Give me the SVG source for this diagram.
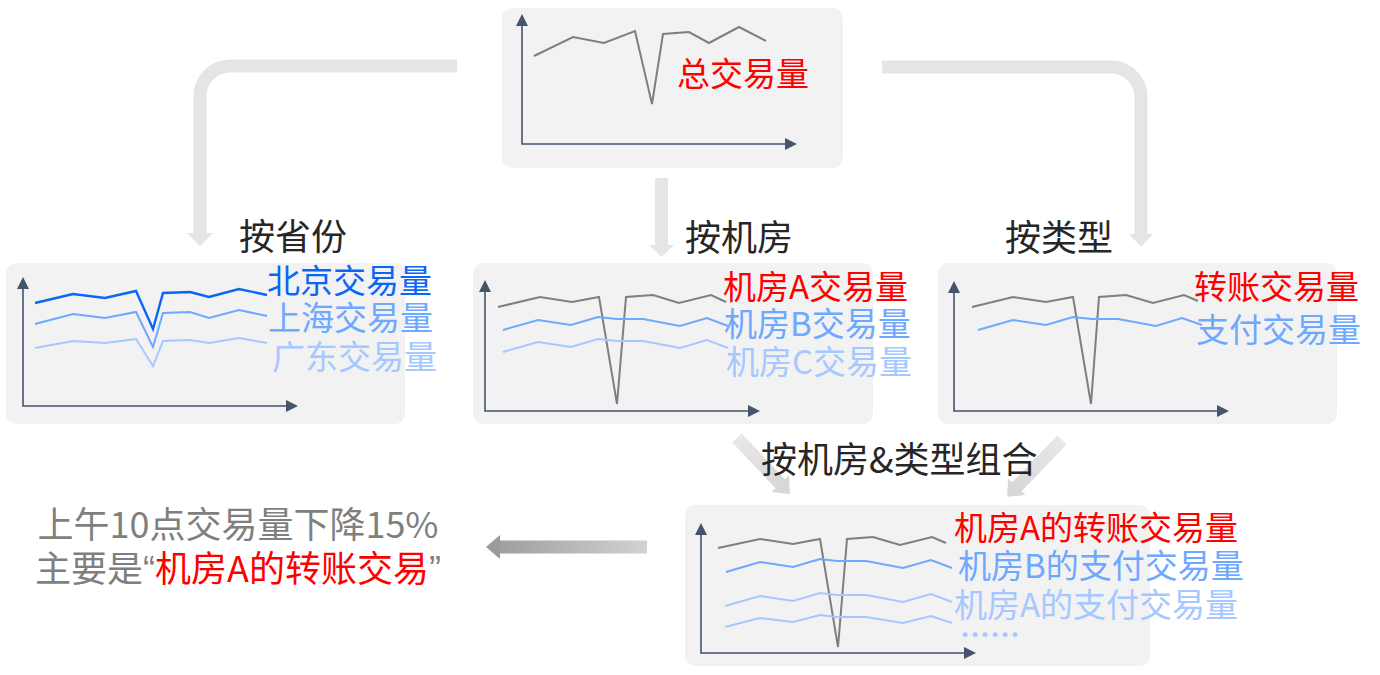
<svg xmlns="http://www.w3.org/2000/svg" width="1380" height="675" viewBox="0 0 1380 675">
<defs>
<style>
.box{fill:#f2f2f2}
.ax{stroke:#44546a;stroke-width:1.6;fill:none}
.axh{fill:#44546a}
.g{stroke:#7f7f7f;stroke-width:2;fill:none;stroke-linejoin:miter}
.b1{stroke:#0a66f5;stroke-width:2.4;fill:none}
.b2{stroke:#6ea8ff;stroke-width:2;fill:none}
.b3{stroke:#a6c8ff;stroke-width:2;fill:none}
text{font-family:"Noto Sans CJK SC","Noto Sans",sans-serif}
.lbl{font-size:33px}
.sec{font-size:36px;fill:#262626}
.red{fill:#ff0000}
.tb1{fill:#0a66f5}
.tb2{fill:#6ea8ff}
.tb3{fill:#a6c8ff}
.q{font-family:"Liberation Sans",sans-serif}
.con{stroke:#e5e5e5;stroke-width:13;fill:none}
.conh{fill:#e5e5e5}
</style>
<linearGradient id="lg" gradientUnits="userSpaceOnUse" x1="486" y1="0" x2="647" y2="0">
<stop offset="0" stop-color="#9a9a9a"/><stop offset="1" stop-color="#d2d2d2"/>
</linearGradient>
<linearGradient id="dg" x1="0" y1="0" x2="1" y2="0">
<stop offset="0" stop-color="#e8e8e8"/><stop offset="1" stop-color="#d8d8d8"/>
</linearGradient>
</defs>

<g id="connectors">
<path class="con" d="M457,66 H230 A30,30 0 0 0 200,96 V233"/>
<polygon class="conh" points="187,233 213,233 200,246"/>
<path class="con" d="M882,67 H1111 A30,30 0 0 1 1141,97 V234"/>
<polygon class="conh" points="1129,234 1153,234 1141,247"/>
<line class="con" x1="661.5" y1="178" x2="661.5" y2="245"/>
<polygon class="conh" points="649,245 674,245 661.5,257"/>
<g transform="translate(737,438) rotate(46.6)">
<rect x="0" y="-6.5" width="64" height="13" fill="url(#dg)"/>
<polygon points="63,-12 63,12 77,0" fill="#d8d8d8"/>
</g>
<g transform="translate(1062,440) rotate(134)">
<rect x="0" y="-6.5" width="66" height="13" fill="url(#dg)"/>
<polygon points="65,-12 65,12 79,0" fill="#d8d8d8"/>
</g>
<rect x="499" y="540.5" width="148" height="13" fill="url(#lg)"/>
<polygon points="500,535 500,559 486,547" fill="#9a9a9a"/>
</g>

<g id="total">
<rect class="box" x="502" y="8" width="341" height="160" rx="10"/>
<path class="ax" d="M522,24 V144 H787"/>
<polygon class="axh" points="516,26 528,26 522,14"/>
<polygon class="axh" points="785,138 785,150 797,144"/>
<polyline class="g" points="534,56 573,37 604,43 635,31 652,104 663,34 689,32 709,43 739,27 766,41"/>
<text class="lbl red" x="677" y="86">总交易量</text>
</g>

<g id="province">
<rect class="box" x="6" y="263" width="399" height="161" rx="10"/>
<path class="ax" d="M23,287 V406 H288"/>
<polygon class="axh" points="17,289 29,289 23,277"/>
<polygon class="axh" points="286,400 286,412 298,406"/>
<polyline class="b1" points="35,303 73,294 105,298 136,291 153,329 163,293 190,292 209,297 239,289 267,295"/>
<polyline class="b2" points="35,324 73,314 105,318 136,312 153,347 163,313 190,312 209,318 239,310 267,316"/>
<polyline class="b3" points="35,348 73,341 105,343 136,339 153,366 163,341 190,340 209,343 239,338 267,343"/>
<text class="lbl tb1" x="267" y="293">北京交易量</text>
<text class="lbl tb2" x="268" y="330">上海交易量</text>
<text class="lbl tb3" x="272" y="369">广东交易量</text>
<text class="sec" x="239" y="250">按省份</text>
</g>

<g id="room">
<rect class="box" x="473" y="263" width="400" height="161" rx="10"/>
<path class="ax" d="M485,290 V411 H750"/>
<polygon class="axh" points="479,292 491,292 485,280"/>
<polygon class="axh" points="748,405 748,417 760,411"/>
<polyline class="g" points="498,307 540,297 572,302 599,297 617,404 626,297 653,295 679,303 711,295 726,302"/>
<polyline class="b2" points="503,330 538,320 571,325 598,317 617,319 643,319 680,326 707,318 728,326"/>
<polyline class="b3" points="503,352 538,342 571,347 598,339 617,341 643,341 680,348 707,340 728,348"/>
<text class="lbl red" x="723" y="299">机房A交易量</text>
<text class="lbl tb2" x="724" y="336">机房B交易量</text>
<text class="lbl tb3" x="726" y="374">机房C交易量</text>
<text class="sec" x="685" y="251">按机房</text>
</g>

<g id="type">
<rect class="box" x="938" y="263" width="399" height="161" rx="10"/>
<path class="ax" d="M954,291 V411 H1219"/>
<polygon class="axh" points="948,293 960,293 954,281"/>
<polygon class="axh" points="1217,405 1217,417 1229,411"/>
<polyline class="g" points="972,307 1013,297 1046,302 1073,297 1091,404 1099,297 1126,295 1153,303 1184,295 1198,301"/>
<polyline class="b2" points="978,330 1013,320 1046,325 1073,317 1092,319 1118,319 1156,326 1182,318 1202,325"/>
<text class="lbl red" x="1194" y="299">转账交易量</text>
<text class="lbl tb2" x="1196" y="342">支付交易量</text>
<text class="sec" x="1005" y="251">按类型</text>
</g>

<g id="combo">
<rect class="box" x="685" y="505" width="465" height="161" rx="10"/>
<path class="ax" d="M701,533 V653 H966"/>
<polygon class="axh" points="695,535 707,535 701,523"/>
<polygon class="axh" points="964,647 964,659 976,653"/>
<polyline class="g" points="718,548 760,539 793,544 820,539 838,647 847,539 873,537 900,545 932,537 946,543"/>
<polyline class="b2" points="726,572 760,562 793,567 820,559 837,561 866,561 903,568 931,560 952,568"/>
<polyline class="b3" points="725,606 760,596 793,601 820,593 837,595 866,595 903,602 931,594 952,602"/>
<polyline class="b3" points="725,627 760,618 793,622 820,615 837,617 866,617 903,623 931,616 952,623"/>
<text class="lbl red" x="954" y="540">机房A的转账交易量</text>
<text class="lbl tb2" x="958" y="578">机房B的支付交易量</text>
<text class="lbl tb3" x="954" y="617">机房A的支付交易量</text>
<text class="tb3" x="960" y="646" font-size="30" font-weight="bold">……</text>
<text class="sec" x="761" y="473">按机房&amp;类型组合</text>
</g>

<g id="conclusion">
<text x="238" y="538" text-anchor="middle" font-size="36" fill="#7f7f7f">上午10点交易量下降15%</text>
<text x="238" y="582" text-anchor="middle" font-size="36" fill="#7f7f7f">主要是<tspan class="q">“</tspan><tspan class="red">机房A的转账交易</tspan><tspan class="q">”</tspan></text>
</g>
</svg>
